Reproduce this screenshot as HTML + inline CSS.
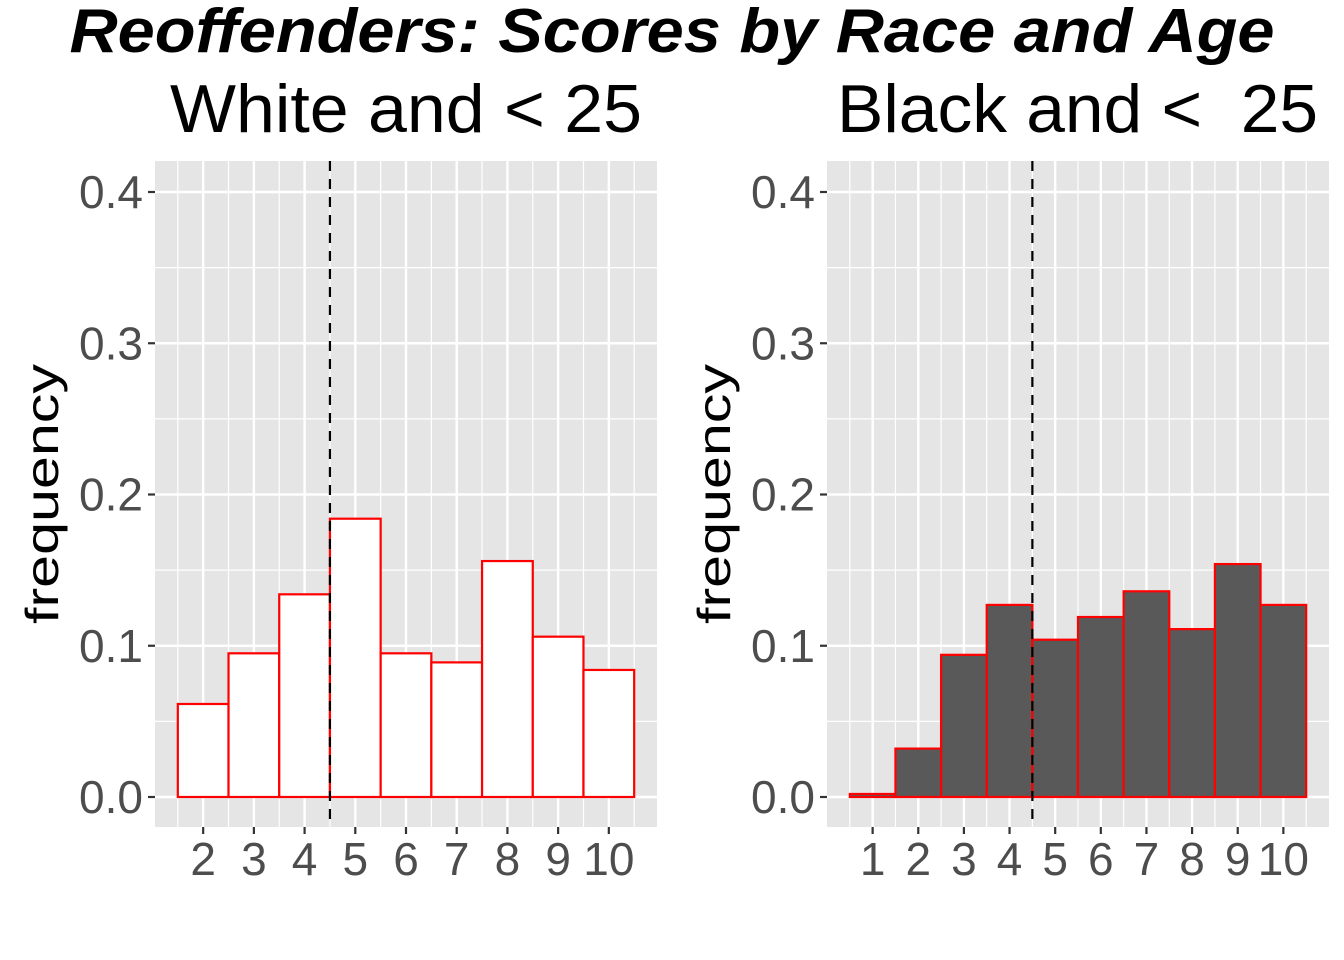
<!DOCTYPE html>
<html><head><meta charset="utf-8"><style>
html,body{margin:0;padding:0;background:#fff}
svg{display:block;font-family:"Liberation Sans",Arial,sans-serif}
.pre{white-space:pre}
</style></head><body>
<svg id="chart" width="1344" height="960" viewBox="0 0 1344 960">
<text x="672" y="52" text-anchor="middle" font-size="62" font-weight="bold" font-style="italic" textLength="1205" lengthAdjust="spacingAndGlyphs">Reoffenders: Scores by Race and Age</text>
<g id="panels"></g>
</svg>
<script>
const whiteCats = [2,3,4,5,6,7,8,9,10];
const whiteVals = [0.0615,0.095,0.134,0.184,0.095,0.089,0.156,0.106,0.084];
const blackCats = [1,2,3,4,5,6,7,8,9,10];
const blackVals = [0.002,0.032,0.094,0.127,0.104,0.119,0.136,0.111,0.154,0.127];
const yTicks = [0,0.1,0.2,0.3,0.4];
const yTickLabels = ["0.0","0.1","0.2","0.3","0.4"];
const cutoff = 4.5;

const NS="http://www.w3.org/2000/svg";
const root=document.getElementById('panels');
function mk(tag,attrs,parent){const e=document.createElementNS(NS,tag);for(const k in attrs)e.setAttribute(k,attrs[k]);(parent||root).appendChild(e);return e;}

function panel(opts){
  const {left,right,top,bottom,cats,vals,fill,title,titleX,titleLen,name}=opts;
  const g=mk('g',{});
  
  
  const xmin=Math.min(...cats)-0.5, xmax=Math.max(...cats)+0.5;
  const pad=(xmax-xmin)*0.05;
  const x=v=>left+(v-(xmin-pad))/((xmax+pad)-(xmin-pad))*(right-left);
  const y0=797, y4=192;
  const y=v=>y0+(y4-y0)*v/0.4;
  const bg=mk('rect',{x:left,y:top,width:right-left,height:bottom-top,fill:'#e5e5e5'},g);
  
  
  for(let i=0;i<yTicks.length-1;i++){
    const v=(yTicks[i]+yTicks[i+1])/2;
    const l=mk('line',{x1:left,x2:right,y1:y(v),y2:y(v),stroke:'#fff','stroke-width':1.2},g);
    
    
  }
  for(let v=xmin;v<=xmax+1e-9;v+=1){
    const l=mk('line',{x1:x(v),x2:x(v),y1:top,y2:bottom,stroke:'#fff','stroke-width':1.2},g);
    
    
  }
  yTicks.forEach((v,i)=>{
    const l=mk('line',{x1:left,x2:right,y1:y(v),y2:y(v),stroke:'#fff','stroke-width':2.4},g);
    
    
    const t=mk('line',{x1:left-7,x2:left,y1:y(v),y2:y(v),stroke:'#333','stroke-width':2.2},g);
    
    
    const tx=mk('text',{x:left-12,y:y(v)+16,'text-anchor':'end','font-size':46,fill:'#4d4d4d'},g);
    tx.textContent=yTickLabels[i];
    
    
  });
  cats.forEach(c=>{
    const l=mk('line',{x1:x(c),x2:x(c),y1:top,y2:bottom,stroke:'#fff','stroke-width':2.4},g);
    
    
    const t=mk('line',{x1:x(c),x2:x(c),y1:bottom,y2:bottom+7,stroke:'#333','stroke-width':2.2},g);
    
    
    const tx=mk('text',{x:x(c),y:875,'text-anchor':'middle','font-size':46,fill:'#4d4d4d'},g);
    tx.textContent=String(c);
    
    
  });
  cats.forEach((c,i)=>{
    const b=mk('rect',{x:x(c-0.5),y:y(vals[i]),width:x(c+0.5)-x(c-0.5),height:y(0)-y(vals[i]),fill:fill,stroke:'#ff0000','stroke-width':2.2},g);
    
    
  });
  const d=mk('line',{x1:x(cutoff),x2:x(cutoff),y1:top,y2:bottom,stroke:'#000','stroke-width':2.2,'stroke-dasharray':'10,8'},g);
  
  
  const st=mk('text',{x:titleX,y:132,'font-size':68,fill:'#000',textLength:titleLen,lengthAdjust:'spacingAndGlyphs',class:'pre'},g);
  st.textContent=title;
  
  
  const yt=mk('text',{x:0,y:0,'font-size':46,'text-anchor':'middle',fill:'#000',textLength:260,lengthAdjust:'spacingAndGlyphs',transform:`translate(${left-97},${(top+bottom)/2}) rotate(-90)`},g);
  yt.textContent='frequency';
  
  
}
panel({left:155,right:657,top:161,bottom:827,cats:whiteCats,vals:whiteVals,fill:'#ffffff',title:'White and < 25',titleX:170,titleLen:472,name:'white-panel'});
panel({left:827,right:1329,top:161,bottom:827,cats:blackCats,vals:blackVals,fill:'#595959',title:'Black and <  25',titleX:837,titleLen:481,name:'black-panel'});
</script>
</body></html>
